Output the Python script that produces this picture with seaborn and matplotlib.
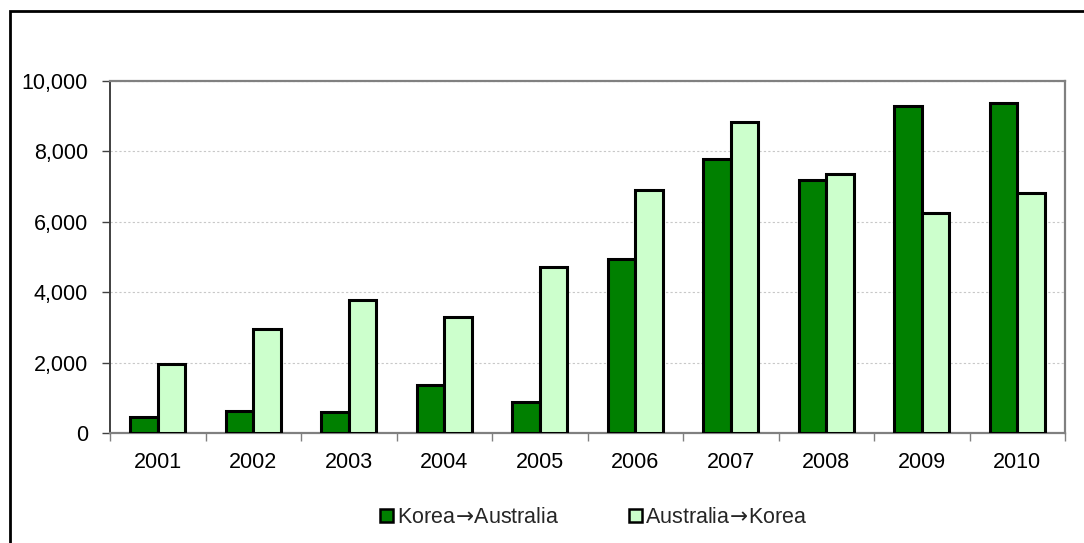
import matplotlib
matplotlib.use("Agg")
import matplotlib.pyplot as plt
import matplotlib.ticker as mticker
from matplotlib.patches import Rectangle, Patch
import numpy as np
import pandas as pd
import seaborn as sns

years = ["2001", "2002", "2003", "2004", "2005", "2006", "2007", "2008", "2009", "2010"]
korea_to_australia = [470, 650, 610, 1370, 890, 4950, 7790, 7180, 9280, 9360]
australia_to_korea = [1980, 2950, 3790, 3310, 4720, 6900, 8840, 7370, 6260, 6830]
series_names = ["Korea\u2192Australia", "Australia\u2192Korea"]
series_labels = ["Korea$\\!\\rightarrow\\!$Australia", "Australia$\\!\\rightarrow\\!$Korea"]
series_colors = ["#008000", "#CCFFCC"]
y_ticks = [0, 2000, 4000, 6000, 8000, 10000]

df = pd.DataFrame({
    "year": years * 2,
    "value": korea_to_australia + australia_to_korea,
    "series": [series_names[0]] * len(years) + [series_names[1]] * len(years),
})

sns.set_theme(style="white")
plt.rcParams["font.family"] = ["Liberation Sans", "DejaVu Sans"]
plt.rcParams["mathtext.fontset"] = "dejavusans"

fig = plt.figure(figsize=(10.84, 5.43), dpi=100)
ax = fig.add_axes([0.1015, 0.2017, 0.9825 - 0.1015, 0.851 - 0.2017])

sns.barplot(data=df, x="year", y="value", hue="series", order=years,
            hue_order=series_names, palette=series_colors, width=0.575,
            edgecolor="black", linewidth=2.2, saturation=1, legend=False,
            ax=ax, zorder=3)

ax.set_xlim(-0.5, len(years) - 0.5)
ax.set_ylim(0, 10000)
ax.set_yticks(y_ticks)
ax.yaxis.set_major_formatter(mticker.FuncFormatter(lambda v, p: f"{int(v):,}"))
ax.set_xlabel("")
ax.set_ylabel("")

# category separators as minor ticks
ax.set_xticks(np.arange(-0.5, len(years), 1.0), minor=True)
ax.tick_params(axis="x", which="major", length=0, pad=13, labelsize=15.5, labelcolor="black")
ax.tick_params(axis="x", which="minor", length=6, width=1, color="#808080", direction="out", bottom=True)
ax.tick_params(axis="y", which="major", length=6, width=1, color="#404040", direction="out",
               left=True, pad=10, labelsize=15.5, labelcolor="black")

ax.grid(axis="y", linestyle=(0, (2, 2)), color="#C8C8C8", linewidth=0.8, zorder=0)
ax.set_axisbelow(True)

for side in ["top", "right", "bottom"]:
    ax.spines[side].set_color("#808080")
    ax.spines[side].set_linewidth(1.6)
ax.spines["left"].set_color("#404040")
ax.spines["left"].set_linewidth(1.4)

handles = [Patch(facecolor=c, edgecolor="black", linewidth=1.8) for c in series_colors]
fig.legend(handles, series_labels, loc="center", bbox_to_anchor=(0.548, 0.047), ncol=2,
           frameon=False, fontsize=15.5, handlelength=0.6, handleheight=0.6,
           handletextpad=0.15, columnspacing=3.25)

# outer chart border
fig.patches.append(Rectangle((10 / 1084, -0.1), 1.2, 1 - 11 / 543 + 0.1,
                             transform=fig.transFigure, fill=False,
                             edgecolor="black", linewidth=2))

fig.savefig("out.png", dpi=100)
